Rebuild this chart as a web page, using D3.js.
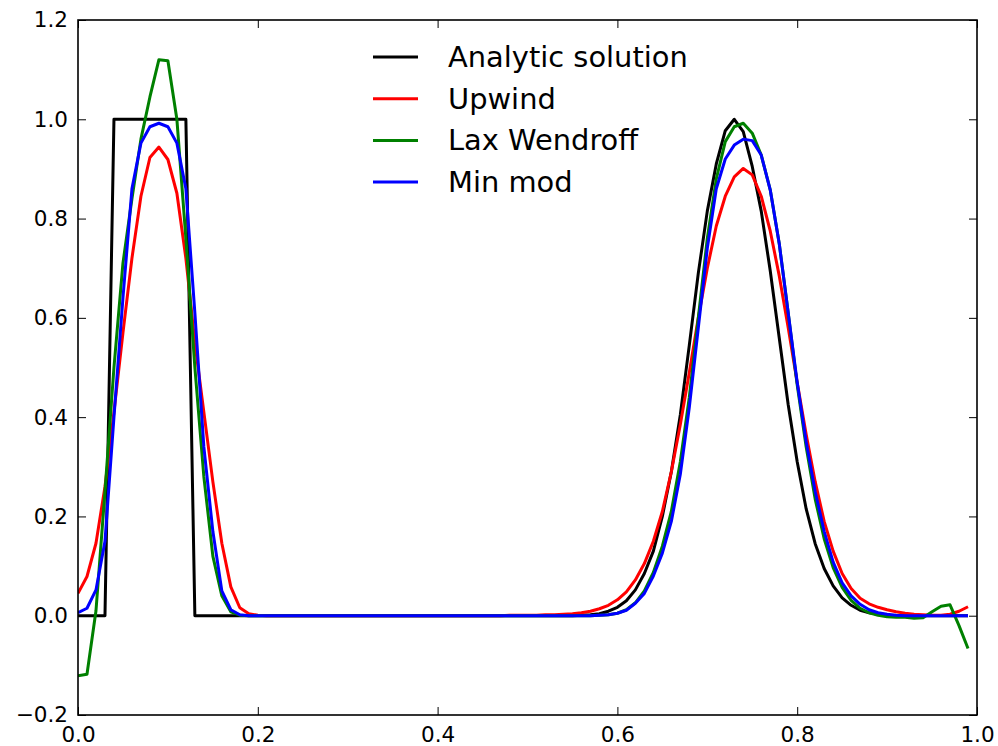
<!DOCTYPE html>
<html>
<head>
<meta charset="utf-8">
<script src="https://cdn.jsdelivr.net/npm/d3@7"></script>
<style>
  html, body { margin: 0; padding: 0; background: #fff; }
  svg { display: block; font-family: "DejaVu Sans", sans-serif; }
</style>
</head>
<body>
<div id="chart"></div>
<script>
// grid positions (dx = 0.01)
const xs = [
  0.00, 0.01, 0.02, 0.03, 0.04, 0.05, 0.06, 0.07, 0.08, 0.09,
  0.10, 0.11, 0.12, 0.13, 0.14, 0.15, 0.16, 0.17, 0.18, 0.19,
  0.20, 0.21, 0.22, 0.23, 0.24, 0.25, 0.26, 0.27, 0.28, 0.29,
  0.30, 0.31, 0.32, 0.33, 0.34, 0.35, 0.36, 0.37, 0.38, 0.39,
  0.40, 0.41, 0.42, 0.43, 0.44, 0.45, 0.46, 0.47, 0.48, 0.49,
  0.50, 0.51, 0.52, 0.53, 0.54, 0.55, 0.56, 0.57, 0.58, 0.59,
  0.60, 0.61, 0.62, 0.63, 0.64, 0.65, 0.66, 0.67, 0.68, 0.69,
  0.70, 0.71, 0.72, 0.73, 0.74, 0.75, 0.76, 0.77, 0.78, 0.79,
  0.80, 0.81, 0.82, 0.83, 0.84, 0.85, 0.86, 0.87, 0.88, 0.89,
  0.90, 0.91, 0.92, 0.93, 0.94, 0.95, 0.96, 0.97, 0.98, 0.99
];

const analytic = [
  0, 0, 0, 0, 1, 1, 1, 1, 1, 1,
  1, 1, 1, 0, 0, 0, 0, 0, 0, 0,
  0, 0, 0, 0, 0, 0, 0, 0, 0, 0,
  0, 0, 0, 0, 0, 0, 0, 0, 0, 0,
  0, 0, 0, 0, 0, 0, 0, 0, 0, 0,
  0, 0, 0, 0, 0, 0, 0.001, 0.002, 0.004, 0.009,
  0.017, 0.03, 0.052, 0.085, 0.13, 0.2, 0.29, 0.405, 0.545, 0.69,
  0.815, 0.91, 0.977, 1, 0.975, 0.905, 0.815, 0.695, 0.56, 0.425,
  0.31, 0.215, 0.145, 0.095, 0.06, 0.036, 0.021, 0.011, 0.006, 0.003,
  0.001, 0, 0, 0, 0, 0, 0, 0, 0, 0
];

const upwind = [
  0.045, 0.079, 0.146, 0.26, 0.41, 0.57, 0.72, 0.845, 0.923, 0.944,
  0.919, 0.851, 0.72, 0.55, 0.41, 0.27, 0.146, 0.058, 0.016, 0.004,
  0.001, 0, 0, 0, 0, 0, 0, 0, 0, 0,
  0, 0, 0, 0, 0, 0, 0, 0, 0, 0,
  0, 0, 0, 0, 0, 0, 0, 0, 0.001, 0.001,
  0.001, 0.001, 0.002, 0.002, 0.003, 0.004, 0.006, 0.009, 0.014, 0.021,
  0.032, 0.048, 0.072, 0.105, 0.15, 0.21, 0.29, 0.385, 0.49, 0.6,
  0.7, 0.785, 0.845, 0.884, 0.901, 0.888, 0.845, 0.775, 0.685, 0.58,
  0.47, 0.365, 0.27, 0.19, 0.13, 0.085, 0.055, 0.035, 0.024, 0.017,
  0.012, 0.008, 0.005, 0.003, 0.002, 0.001, 0.001, 0.003, 0.009, 0.018
];

const laxWendroff = [
  -0.121, -0.118, 0.01, 0.25, 0.5, 0.71, 0.84, 0.96, 1.045, 1.12,
  1.118, 1.0, 0.76, 0.5, 0.28, 0.12, 0.04, 0.008, 0.001, 0,
  0, 0, 0, 0, 0, 0, 0, 0, 0, 0,
  0, 0, 0, 0, 0, 0, 0, 0, 0, 0,
  0, 0, 0, 0, 0, 0, 0, 0, 0, 0,
  0, 0, 0, 0, 0, 0, 0, 0, 0.001, 0.002,
  0.005, 0.012, 0.026, 0.05, 0.087, 0.14, 0.21, 0.31, 0.44, 0.6,
  0.76, 0.88, 0.955, 0.985, 0.992, 0.972, 0.928, 0.858, 0.75, 0.61,
  0.465, 0.34, 0.235, 0.155, 0.097, 0.057, 0.031, 0.015, 0.006, 0.001,
  -0.002, -0.003, -0.003, -0.005, -0.004, 0.008, 0.019, 0.022, -0.02, -0.066
];

const minMod = [
  0.006, 0.015, 0.052, 0.15, 0.4, 0.64, 0.86, 0.952, 0.985, 0.992,
  0.985, 0.952, 0.86, 0.61, 0.34, 0.17, 0.05, 0.012, 0.002, 0,
  0, 0, 0, 0, 0, 0, 0, 0, 0, 0,
  0, 0, 0, 0, 0, 0, 0, 0, 0, 0,
  0, 0, 0, 0, 0, 0, 0, 0, 0, 0,
  0, 0, 0, 0, 0, 0, 0, 0, 0.001, 0.002,
  0.005, 0.011, 0.025, 0.045, 0.08, 0.126, 0.19, 0.285, 0.42, 0.58,
  0.74, 0.86, 0.92, 0.948, 0.96, 0.957, 0.928, 0.858, 0.75, 0.61,
  0.47, 0.35, 0.25, 0.17, 0.108, 0.066, 0.04, 0.023, 0.012, 0.006,
  0.003, 0.001, 0, 0, 0, 0, 0, 0, 0, 0
];

const seriesNames = ["Analytic solution", "Upwind", "Lax Wendroff", "Min mod"];
const seriesColors = ["#000000", "#ff0000", "#008000", "#0000ff"];
const xTicks = [0, 0.2, 0.4, 0.6, 0.8, 1.0];
const yTicks = [-0.2, 0, 0.2, 0.4, 0.6, 0.8, 1.0, 1.2];

const series = [analytic, upwind, laxWendroff, minMod].map((vals, k) => ({
  name: seriesNames[k],
  color: seriesColors[k],
  values: vals.map((v, i) => ({ x: xs[i], y: v }))
}));

const W = 998, H = 746;
const margin = { top: 20, right: 21, bottom: 31, left: 78 };
const width = W - margin.left - margin.right;
const height = H - margin.top - margin.bottom;

const svg = d3.select("#chart").append("svg")
  .attr("width", W)
  .attr("height", H);

const g = svg.append("g")
  .attr("transform", `translate(${margin.left},${margin.top})`);

const xScale = d3.scaleLinear().domain([0, 1]).range([0, width]);
const yScale = d3.scaleLinear().domain([-0.2, 1.2]).range([height, 0]);

// clip lines to the axes box
g.append("defs").append("clipPath")
  .attr("id", "plot-clip")
  .append("rect")
  .attr("width", width)
  .attr("height", height);

const line = d3.line()
  .x(d => xScale(d.x))
  .y(d => yScale(d.y));

g.append("g")
  .attr("clip-path", "url(#plot-clip)")
  .selectAll("path")
  .data(series)
  .join("path")
  .attr("fill", "none")
  .attr("stroke", d => d.color)
  .attr("stroke-width", 3)
  .attr("stroke-linejoin", "round")
  .attr("d", d => line(d.values));

// axes, ticks pointing inward on all four sides
const fmt = d3.format(".1f");
const tickFont = "21.5px";

g.append("g")
  .attr("transform", `translate(0,${height})`)
  .call(d3.axisBottom(xScale).tickValues(xTicks).tickFormat(fmt)
    .tickSizeInner(-8).tickSizeOuter(0).tickPadding(11.5));

g.append("g")
  .call(d3.axisLeft(yScale).tickValues(yTicks).tickFormat(fmt)
    .tickSizeInner(-8).tickSizeOuter(0).tickPadding(10));

g.append("g")
  .call(d3.axisTop(xScale).tickValues(xTicks).tickFormat("")
    .tickSizeInner(-8).tickSizeOuter(0));

g.append("g")
  .attr("transform", `translate(${width},0)`)
  .call(d3.axisRight(yScale).tickValues(yTicks).tickFormat("")
    .tickSizeInner(-8).tickSizeOuter(0));

g.selectAll(".domain").remove();
g.selectAll(".tick line").attr("stroke", "#000").attr("stroke-width", 1);
g.selectAll(".tick text")
  .style("font-size", tickFont)
  .style("font-family", "DejaVu Sans")
  .attr("fill", "#000");

// frame
g.append("rect")
  .attr("width", width)
  .attr("height", height)
  .attr("fill", "none")
  .attr("stroke", "#000")
  .attr("stroke-width", 1.6);

// legend (no frame)
const legend = svg.append("g")
  .attr("transform", "translate(373,57)");

const rowH = 41.7;
const legendRows = legend.selectAll("g")
  .data(series)
  .join("g")
  .attr("transform", (d, i) => `translate(0,${i * rowH})`);

legendRows.append("line")
  .attr("x1", 0)
  .attr("x2", 45)
  .attr("stroke", d => d.color)
  .attr("stroke-width", 3);

legendRows.append("text")
  .attr("x", 75)
  .attr("y", 10)
  .style("font-size", "28.9px")
  .attr("fill", "#000")
  .text(d => d.name);
</script>
</body>
</html>
